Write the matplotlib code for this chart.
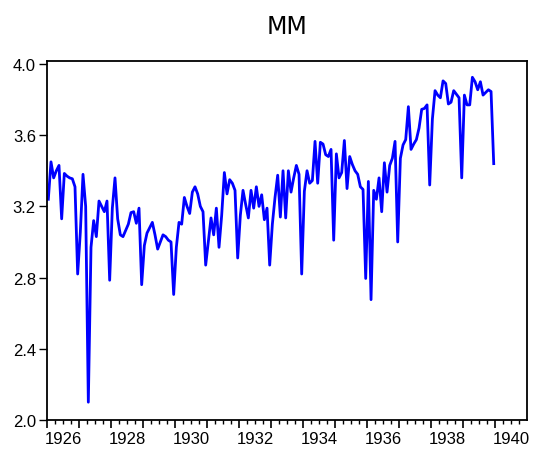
import matplotlib
matplotlib.use('Agg')
import matplotlib.pyplot as plt
import numpy as np

title = 'MM'
start_year = 1926
# monthly values, one row per year (1926 .. 1939)
mm = [
    3.24, 3.45, 3.36, 3.40, 3.43, 3.13, 3.385, 3.37, 3.36, 3.355, 3.31, 2.82,
    3.055, 3.38, 3.20, 2.10, 2.97, 3.12, 3.03, 3.23, 3.20, 3.17, 3.23, 2.785,
    3.19, 3.36, 3.13, 3.04, 3.03, 3.065, 3.10, 3.165, 3.17, 3.105, 3.19, 2.76,
    2.98, 3.05, 3.08, 3.11, 3.04, 2.96, 3.00, 3.04, 3.03, 3.01, 3.00, 2.705,
    2.97, 3.11, 3.10, 3.25, 3.20, 3.16, 3.28, 3.31, 3.27, 3.20, 3.17, 2.87,
    3.00, 3.135, 3.04, 3.19, 2.97, 3.15, 3.39, 3.27, 3.35, 3.33, 3.29, 2.91,
    3.15, 3.29, 3.21, 3.135, 3.29, 3.19, 3.31, 3.20, 3.265, 3.125, 3.19, 2.87,
    3.10, 3.25, 3.375, 3.14, 3.40, 3.135, 3.40, 3.28, 3.36, 3.43, 3.38, 2.82,
    3.285, 3.40, 3.33, 3.345, 3.565, 3.33, 3.56, 3.55, 3.49, 3.48, 3.52, 3.01,
    3.495, 3.36, 3.39, 3.57, 3.30, 3.48, 3.435, 3.40, 3.38, 3.31, 3.295, 2.795,
    3.34, 2.676, 3.29, 3.24, 3.36, 3.17, 3.445, 3.28, 3.43, 3.47, 3.565, 3.00,
    3.47, 3.545, 3.575, 3.76, 3.52, 3.55, 3.575, 3.64, 3.745, 3.75, 3.77, 3.32,
    3.69, 3.85, 3.825, 3.81, 3.905, 3.89, 3.775, 3.785, 3.85, 3.83, 3.81, 3.36,
    3.825, 3.77, 3.77, 3.925, 3.90, 3.855, 3.90, 3.825, 3.84, 3.855, 3.845, 3.44,
]
y_ticks = [2.0, 2.4, 2.8, 3.2, 3.6, 4.0]
year_labels = [1926, 1928, 1930, 1932, 1934, 1936, 1938, 1940]


def make_plot(filename):
    plt.rcParams['font.family'] = ['Liberation Sans', 'DejaVu Sans']
    fig = plt.figure(figsize=(5.34, 4.52), dpi=100)
    ax = fig.add_axes([0.088, 0.0686, 0.899, 0.7944])

    # observations sit in the middle of their month
    t = start_year + (np.arange(len(mm)) + 0.5) / 12
    ax.plot(t, mm, color='#0000ff', linewidth=2.0)

    ax.set_xlim(1926, 1941)
    ax.set_ylim(2.0, 4.017)

    ax.set_yticks(y_ticks)
    ax.set_yticklabels([f'{v:.1f}' for v in y_ticks])
    ax.set_xticks(np.arange(1926, 1941))
    ax.set_xticklabels([])
    ax.set_xticks(np.arange(1926, 1941, 0.25), minor=True)
    ax.tick_params(axis='x', which='major', direction='out', length=6, width=1.2)
    ax.tick_params(axis='x', which='minor', direction='out', length=3, width=1.0)
    ax.tick_params(axis='y', direction='out', length=6, width=1.0, pad=2, labelsize=12)

    for yr in year_labels:
        ax.annotate(str(yr), xy=(yr + 0.5, 0), xycoords=('data', 'axes fraction'),
                    xytext=(0, -8), textcoords='offset points',
                    ha='center', va='top', fontsize=12)

    for s in ax.spines.values():
        s.set_linewidth(1.3)

    ax.set_title(title, fontsize=17, pad=20, family='DejaVu Sans')
    fig.savefig(filename, dpi=100)


if __name__ == '__main__':
    make_plot('out.png')
